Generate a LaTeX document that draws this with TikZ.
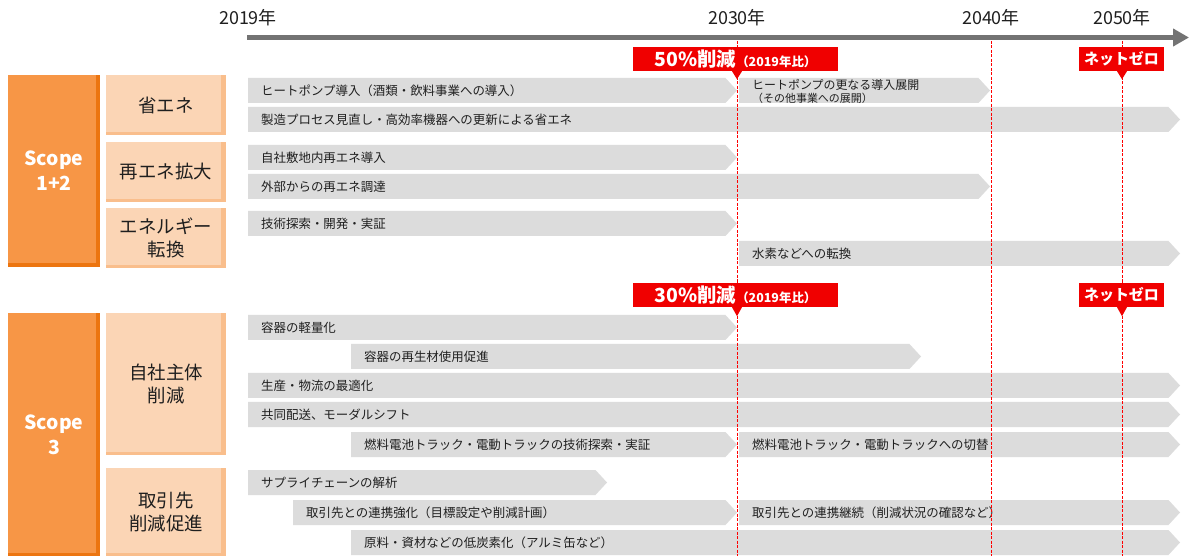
\documentclass[tikz,border=0pt]{standalone}
\usepackage{fontspec}
\setmainfont{Noto Sans CJK JP}
\usetikzlibrary{arrows.meta}
\definecolor{barGray}{HTML}{DCDCDC}
\definecolor{txt}{HTML}{1F1F1F}
\definecolor{axisGray}{HTML}{737373}
\definecolor{redc}{HTML}{F00000}
\definecolor{gridred}{HTML}{FF0000}
\definecolor{orangeMain}{HTML}{F79646}
\definecolor{orangeDark}{HTML}{EC7510}
\definecolor{peach}{HTML}{FBD5B5}
\definecolor{peachDark}{HTML}{F9BE8C}
\newcommand\tlshape[3]{%
  \fill[barshape] (#1,#3) -- ({#2-11.5},#3) -- (#2,{#3+12.5}) -- ({#2-11.5},{#3+25}) -- (#1,{#3+25}) -- cycle;}
\newcommand\tlbar[5]{%
  \tlshape{#2}{#3}{#4}%
  \node[bartext] (#1) at ({#2+13},{#4+12.5}) {#5};}
\begin{document}
\begin{tikzpicture}[x=1bp,y=-1bp,
  barshape/.style={fill=barGray},
  bartext/.style={anchor=west, inner sep=0pt, text=txt, font=\fontsize{12.5}{14}\selectfont},
  yearlbl/.style={inner sep=0pt, text=txt, font=\fontsize{18}{20}\selectfont},
  scopebox/.style={fill=orangeMain, text=white, inner sep=0pt, align=center,
    minimum width=92bp, font=\bfseries\fontsize{19.5}{25}\selectfont},
  catbox/.style={fill=peach, text=txt, inner sep=0pt, align=center,
    minimum width=120bp, font=\fontsize{18.5}{23}\selectfont},
  milestone/.style={fill=redc, text=white, inner sep=0pt, minimum height=24bp, font=\bfseries},
  gridline/.style={draw=gridred, line width=1bp, dash pattern=on 3bp off 1.5bp},
  axisline/.style={draw=axisGray, line width=5.5bp, -{Triangle[length=16bp,width=17bp]}}
]
\useasboundingbox (0,0) rectangle (1194,556);
\fill[white] (0,0) rectangle (1194,556);

% axis
\coordinate (axs) at (247,37.5);
\coordinate (axe) at (1189,37.5);
\draw[axisline] (axs) -- (axe);
\node[yearlbl] (y2019) at (248,18) {2019年};
\node[yearlbl] (y2030) at (737,18) {2030年};
\node[yearlbl] (y2040) at (991,18) {2040年};
\node[yearlbl] (y2050) at (1122,18) {2050年};

% left category boxes
\node[scopebox, minimum height=192bp] (s12) at (54,171) {Scope\\1+2};
\fill[orangeDark] ([xshift=-4bp]s12.north east) rectangle (s12.south east);
\fill[orangeDark] ([yshift=4bp]s12.south west) rectangle (s12.south east);
\node[scopebox, minimum height=243bp] (s3) at (54,434.5) {Scope\\3};
\fill[orangeDark] ([xshift=-4bp]s3.north east) rectangle (s3.south east);
\fill[orangeDark] ([yshift=3bp]s3.south west) rectangle (s3.south east);

\node[catbox, minimum height=60bp] (c1) at (166,105) {省エネ};
\node[catbox, minimum height=60bp] (c2) at (166,172) {再エネ拡大};
\node[catbox, minimum height=60bp] (c3) at (166,238) {エネルギー\\転換};
\node[catbox, minimum height=142bp] (c4) at (166,384) {自社主体\\削減};
\node[catbox, minimum height=88bp] (c5) at (166,512) {取引先\\削減促進};
\foreach \c in {c1,c2,c3,c4,c5}{
  \fill[peachDark] ([xshift=-5bp]\c.north east) rectangle (\c.south east);
  \fill[peachDark] ([yshift=3bp]\c.south west) rectangle (\c.south east);
}

% bars
\tlbar{b1}{248}{737}{78}{ヒートポンプ導入（酒類・飲料事業への導入）}
\tlshape{739}{990}{78}
\node[bartext, align=left, font=\fontsize{12}{12.5}\selectfont] (b1b) at (752,91.5)
  {ヒートポンプの更なる導入展開\\{\fontsize{11}{12}\selectfont （その他事業への展開）}};
\tlbar{b2}{248}{1180}{107}{製造プロセス見直し・高効率機器への更新による省エネ}
\tlbar{b3}{248}{737}{145}{自社敷地内再エネ導入}
\tlbar{b4}{248}{990}{174}{外部からの再エネ調達}
\tlbar{b5}{248}{737}{211}{技術探索・開発・実証}
\tlbar{b6}{739}{1180}{241}{水素などへの転換}
\tlbar{b7}{248}{737}{315}{容器の軽量化}
\tlbar{b8}{351}{921}{344}{容器の再生材使用促進}
\tlbar{b9}{248}{1180}{373}{生産・物流の最適化}
\tlbar{b10}{248}{1180}{402}{共同配送、モーダルシフト}
\tlbar{b11}{351}{737}{432}{燃料電池トラック・電動トラックの技術探索・実証}
\tlbar{b11b}{739}{1180}{432}{燃料電池トラック・電動トラックへの切替}
\tlbar{b12}{248}{607}{470}{サプライチェーンの解析}
\tlbar{b13}{293}{737}{500}{取引先との連携強化（目標設定や削減計画）}
\tlbar{b13b}{739}{1180}{500}{取引先との連携継続（削減状況の確認など）}
\tlbar{b14}{351}{1180}{530}{原料・資材などの低炭素化（アルミ缶など）}

% dashed year lines
\coordinate (g30a) at (737,41); \coordinate (g30b) at (737,556);
\coordinate (g40a) at (991,41); \coordinate (g40b) at (991,556);
\coordinate (g50a) at (1122,41); \coordinate (g50b) at (1122,556);
\draw[gridline] (g30a) -- (g30b);
\draw[gridline] (g40a) -- (g40b);
\draw[gridline] (g50a) -- (g50b);

% milestone labels
\node[milestone, minimum width=205bp] (m1) at (735.5,59)
  {{\fontsize{19.5}{21}\selectfont 50\%削減}{\fontsize{12.5}{15}\selectfont （2019年比）}};
\fill[redc] ([xshift=-5bp]m1.south -| g30a) -- ([xshift=5bp]m1.south -| g30a) -- ([yshift=-8bp]m1.south -| g30a) -- cycle;
\node[milestone, minimum width=85bp] (m2) at (1121.5,59)
  {\fontsize{15}{16}\selectfont ネットゼロ};
\fill[redc] ([xshift=-5bp]m2.south -| g50a) -- ([xshift=5bp]m2.south -| g50a) -- ([yshift=-8bp]m2.south -| g50a) -- cycle;
\node[milestone, minimum width=205bp] (m3) at (735.5,295)
  {{\fontsize{19.5}{21}\selectfont 30\%削減}{\fontsize{12.5}{15}\selectfont （2019年比）}};
\fill[redc] ([xshift=-5bp]m3.south -| g30a) -- ([xshift=5bp]m3.south -| g30a) -- ([yshift=-9bp]m3.south -| g30a) -- cycle;
\node[milestone, minimum width=85bp] (m4) at (1121.5,295)
  {\fontsize{15}{16}\selectfont ネットゼロ};
\fill[redc] ([xshift=-5bp]m4.south -| g50a) -- ([xshift=5bp]m4.south -| g50a) -- ([yshift=-9bp]m4.south -| g50a) -- cycle;
\end{tikzpicture}
\end{document}
